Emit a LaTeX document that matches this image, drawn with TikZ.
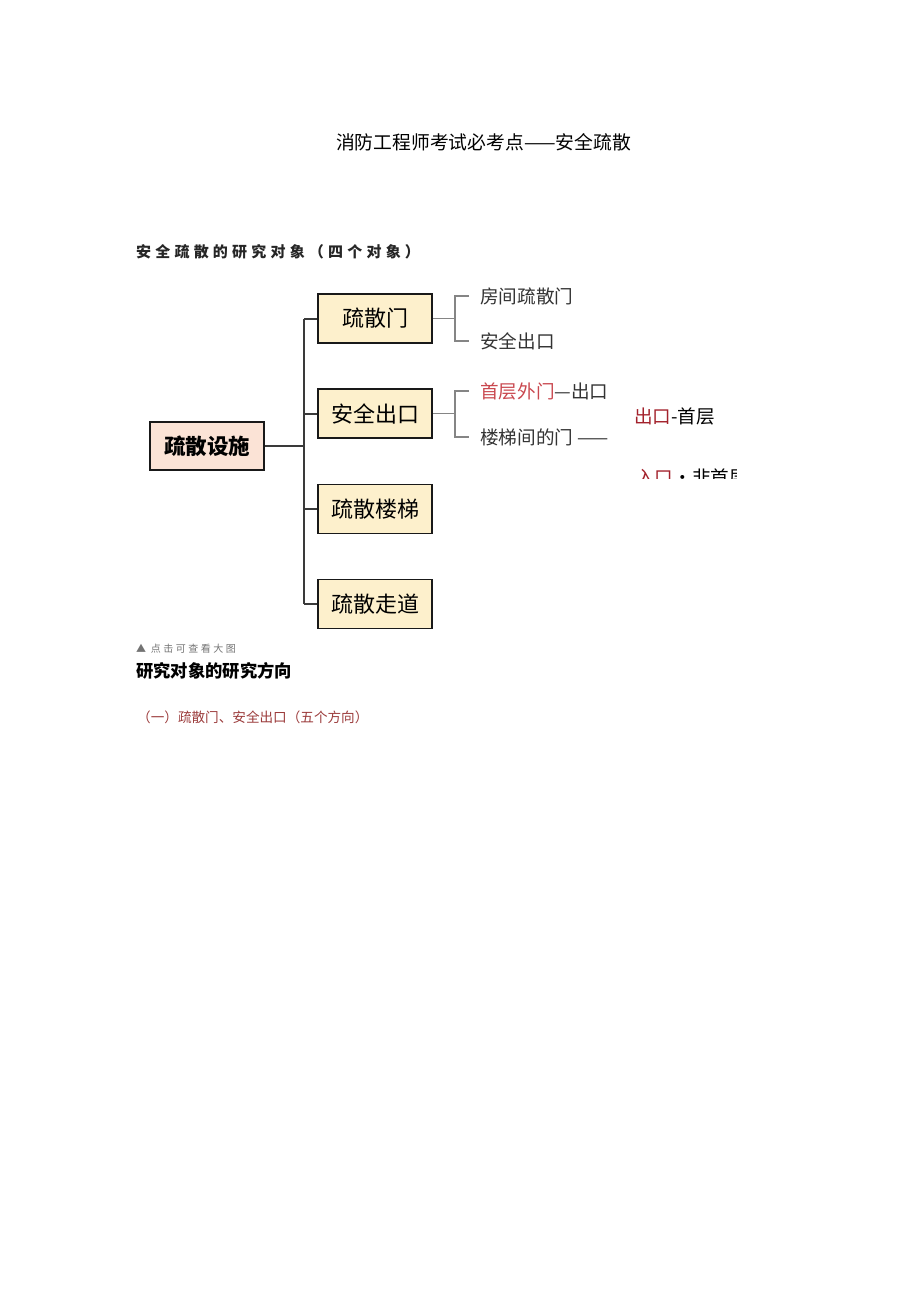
\documentclass[tikz,border=0pt]{standalone}
\usepackage{fontspec}
\usetikzlibrary{positioning, calc}
\newfontfamily\cjk{Noto Sans CJK SC}
\newfontfamily\cjkspaced[LetterSpace=28]{Noto Sans CJK SC}
\newfontfamily\cjksmall[LetterSpace=25]{Noto Sans CJK SC}
\definecolor{rootfill}{HTML}{FBE3D6}
\definecolor{objfill}{HTML}{FDF0CC}
\definecolor{linedark}{HTML}{3A3A3A}
\definecolor{linegray}{HTML}{858585}
\definecolor{hotred}{HTML}{C9484F}
\definecolor{darkred}{HTML}{A3222C}
\definecolor{notered}{HTML}{9B3B3B}

\begin{document}
\begin{tikzpicture}[
    x=1pt, y=-1pt,
    font=\cjk,
    rootbox/.style={draw=black!90, line width=1.6pt, fill=rootfill, minimum width=114pt,
                    minimum height=48pt, inner sep=0pt, font=\cjk\bfseries\fontsize{21.5}{23}\selectfont},
    objbox/.style={draw=black!90, line width=1.6pt, fill=objfill, minimum width=114pt,
                   minimum height=49pt, inner sep=0pt, font=\cjk\fontsize{22}{24}\selectfont},
    leaf/.style={anchor=west, inner sep=0pt, font=\cjk\fontsize{18.6}{20}\selectfont, text=black!80},
    trunk/.style={draw=linedark, line width=2pt},
    twig/.style={draw=linegray, line width=1.3pt},
]
    \useasboundingbox (0,0) rectangle (920,1301);

    %==================== HEADINGS ====================
    \node[font=\cjk\fontsize{18.8}{20}\selectfont, inner sep=0pt] (title) at (483.5,142)
        {消防工程师考试必考点——安全疏散};
    \node[font=\cjkspaced\bfseries\fontsize{15}{17}\selectfont, text=black!85, anchor=west,
          inner sep=0pt] (objhead) at (136,252) {安全疏散的研究对象（四个对象）};

    %==================== ROOT + OBJECTS ====================
    \node[rootbox] (root) at (207,446) {疏散设施};
    \node[objbox] (door) at (375,318.5) {疏散门};
    \node[objbox] (exit) at (375,413.5) {安全出口};
    \node[objbox] (stair) at (375,509) {疏散楼梯};
    \node[objbox] (aisle) at (375,604) {疏散走道};

    \coordinate (tk) at (304,0);
    \draw[trunk] (root.east) -- (root.east -| tk);
    \draw[trunk] (door.west -| tk) -- (aisle.west -| tk);
    \foreach \b in {door, exit, stair, aisle}
        \draw[trunk] (\b.west -| tk) -- (\b.west);

    %==================== LEAVES ====================
    \node[leaf] (room) at (480,296) {房间疏散门};
    \node[leaf] (safe) at (480,341) {安全出口};

    \begin{scope}
        \clip (440,370) rectangle (607,460);
        \node[leaf] (outer) at (480,391) {\textcolor{hotred}{首层外门}—出口};
        \node[leaf] (stdoor) at (480,437) {楼梯间的门 ——};
    \end{scope}

    \coordinate (bx) at (455,0);
    \draw[twig] (door.east) -- (door.east -| bx);
    \draw[twig] ([xshift=-11pt]room.west) -| (door.east -| bx) |- ([xshift=-11pt]safe.west);
    \draw[twig] (exit.east) -- (exit.east -| bx);
    \draw[twig] ([xshift=-11pt]outer.west) -| (exit.east -| bx) |- ([xshift=-11pt]stdoor.west);

    %==================== SIDE NOTES ====================
    \node[leaf, text=black] (firstfl) at (634,416) {\textcolor{darkred}{出口}-首层};
    \begin{scope}
        \clip (620,460) rectangle (736,478);
        \node[leaf, text=black] (upperfl) at (636,477) {\textcolor{darkred}{入口}•非首层};
    \end{scope}

    %==================== BELOW ====================
    \node[font=\cjksmall\fontsize{10}{12}\selectfont, text=black!55, anchor=west, inner sep=0pt]
        (cap) at (136,649) {▲ 点击可查看大图};
    \node[font=\cjk\bfseries\fontsize{17.3}{19}\selectfont, anchor=west, inner sep=0pt]
        (dirhead) at (136,671) {研究对象的研究方向};
    \node[font=\cjk\fontsize{13.6}{15}\selectfont, text=notered, anchor=west, inner sep=0pt]
        (dirone) at (137,717) {（一）疏散门、安全出口（五个方向）};
\end{tikzpicture}
\end{document}
